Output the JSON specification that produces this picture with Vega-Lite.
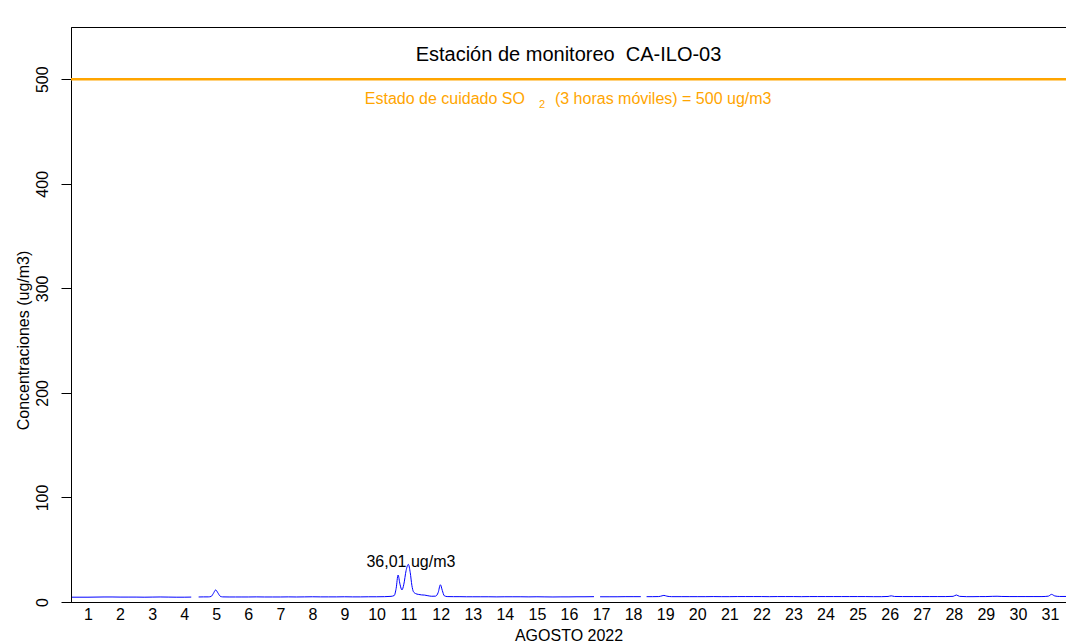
{
  "$schema": "https://vega.github.io/schema/vega-lite/v6.json",
  "width": 995,
  "height": 575,
  "autosize": {"type": "none"},
  "padding": {"left": 71, "top": 27, "right": 0, "bottom": 42},
  "background": "white",
  "config": {
    "font": "Liberation Sans",
    "view": {"stroke": "#000000", "strokeWidth": 1},
    "axis": {"labelColor": "#000000", "titleColor": "#000000", "domainColor": "#000000", "tickColor": "#000000", "grid": false, "labelFlush": false, "labelBound": false, "domainWidth": 1, "labelFontSize": 16, "titleFontSize": 16, "titleFontWeight": "normal"}
  },
  "title": {"text": "Estación de monitoreo\u00a0 CA-ILO-03", "fontSize": 20, "fontWeight": "normal", "color": "#000000", "anchor": "middle", "offset": -38},
  "datasets": {
    "so2": [
      {"t":0.5,"v":4.6,"s":1},{"t":0.75,"v":4.6,"s":1},{"t":1.0,"v":4.6,"s":1},{"t":1.25,"v":4.7,"s":1},{"t":1.5,"v":4.8,"s":1},{"t":1.75,"v":4.8,"s":1},{"t":2.0,"v":4.7,"s":1},{"t":2.25,"v":4.7,"s":1},{"t":2.5,"v":4.7,"s":1},{"t":2.75,"v":4.6,"s":1},{"t":3.0,"v":4.7,"s":1},{"t":3.25,"v":4.8,"s":1},{"t":3.5,"v":4.7,"s":1},{"t":3.75,"v":4.6,"s":1},{"t":4.0,"v":4.6,"s":1},{"t":4.22,"v":4.7,"s":1},
      {"t":4.45,"v":4.8,"s":2},{"t":4.6,"v":4.9,"s":2},{"t":4.75,"v":4.9,"s":2},{"t":4.84,"v":5.3,"s":2},{"t":4.91,"v":8.2,"s":2},{"t":4.98,"v":11.5,"s":2},{"t":5.05,"v":8.8,"s":2},{"t":5.12,"v":5.6,"s":2},{"t":5.2,"v":4.9,"s":2},{"t":5.4,"v":4.8,"s":2},{"t":5.6,"v":4.8,"s":2},{"t":5.8,"v":4.8,"s":2},{"t":6.0,"v":4.8,"s":2},{"t":6.25,"v":4.9,"s":2},{"t":6.5,"v":4.8,"s":2},{"t":6.75,"v":4.8,"s":2},{"t":7.0,"v":4.8,"s":2},{"t":7.25,"v":4.9,"s":2},{"t":7.5,"v":4.8,"s":2},{"t":7.75,"v":4.9,"s":2},{"t":8.0,"v":5.0,"s":2},{"t":8.25,"v":4.9,"s":2},{"t":8.5,"v":4.9,"s":2},{"t":8.75,"v":4.9,"s":2},{"t":9.0,"v":5.0,"s":2},{"t":9.25,"v":4.9,"s":2},{"t":9.5,"v":4.9,"s":2},{"t":9.75,"v":5.0,"s":2},{"t":10.0,"v":5.0,"s":2},{"t":10.25,"v":5.1,"s":2},{"t":10.45,"v":5.4,"s":2},{"t":10.55,"v":6.2,"s":2},{"t":10.61,"v":13,"s":2},{"t":10.67,"v":25.8,"s":2},{"t":10.73,"v":17,"s":2},{"t":10.79,"v":11.5,"s":2},{"t":10.85,"v":17,"s":2},{"t":10.92,"v":30,"s":2},{"t":10.99,"v":36.01,"s":2},{"t":11.05,"v":28,"s":2},{"t":11.1,"v":16,"s":2},{"t":11.15,"v":9.8,"s":2},{"t":11.22,"v":8,"s":2},{"t":11.3,"v":7.3,"s":2},{"t":11.4,"v":6.8,"s":2},{"t":11.5,"v":6.6,"s":2},{"t":11.6,"v":6.0,"s":2},{"t":11.72,"v":5.5,"s":2},{"t":11.84,"v":5.6,"s":2},{"t":11.92,"v":9,"s":2},{"t":11.99,"v":16.5,"s":2},{"t":12.05,"v":11,"s":2},{"t":12.11,"v":6,"s":2},{"t":12.2,"v":5.2,"s":2},{"t":12.4,"v":5.1,"s":2},{"t":12.6,"v":5.1,"s":2},{"t":12.8,"v":5.0,"s":2},{"t":13.0,"v":5.0,"s":2},{"t":13.25,"v":5.0,"s":2},{"t":13.5,"v":5.0,"s":2},{"t":13.75,"v":4.9,"s":2},{"t":14.0,"v":5.0,"s":2},{"t":14.25,"v":5.0,"s":2},{"t":14.5,"v":5.0,"s":2},{"t":14.75,"v":4.9,"s":2},{"t":15.0,"v":5.0,"s":2},{"t":15.25,"v":4.9,"s":2},{"t":15.5,"v":4.8,"s":2},{"t":15.75,"v":4.9,"s":2},{"t":16.0,"v":4.9,"s":2},{"t":16.25,"v":5.0,"s":2},{"t":16.5,"v":5.0,"s":2},{"t":16.78,"v":5.1,"s":2},
      {"t":16.97,"v":5.0,"s":3},{"t":17.25,"v":5.0,"s":3},{"t":17.5,"v":5.0,"s":3},{"t":17.75,"v":5.1,"s":3},{"t":18.0,"v":5.1,"s":3},{"t":18.24,"v":5.1,"s":3},
      {"t":18.42,"v":5.1,"s":4},{"t":18.6,"v":5.1,"s":4},{"t":18.8,"v":5.2,"s":4},{"t":18.9,"v":5.9,"s":4},{"t":18.96,"v":6.3,"s":4},{"t":19.05,"v":5.6,"s":4},{"t":19.2,"v":5.1,"s":4},{"t":19.5,"v":5.1,"s":4},{"t":19.75,"v":5.1,"s":4},{"t":20.0,"v":5.1,"s":4},{"t":20.25,"v":5.1,"s":4},{"t":20.5,"v":5.2,"s":4},{"t":20.75,"v":5.1,"s":4},{"t":21.0,"v":5.1,"s":4},{"t":21.25,"v":5.2,"s":4},{"t":21.5,"v":5.2,"s":4},{"t":21.75,"v":5.2,"s":4},{"t":22.0,"v":5.2,"s":4},{"t":22.25,"v":5.1,"s":4},{"t":22.5,"v":5.2,"s":4},{"t":22.75,"v":5.2,"s":4},{"t":23.0,"v":5.2,"s":4},{"t":23.25,"v":5.1,"s":4},{"t":23.5,"v":5.2,"s":4},{"t":23.75,"v":5.2,"s":4},{"t":24.0,"v":5.2,"s":4},{"t":24.25,"v":5.2,"s":4},{"t":24.5,"v":5.2,"s":4},{"t":24.75,"v":5.2,"s":4},{"t":25.0,"v":5.2,"s":4},{"t":25.25,"v":5.2,"s":4},{"t":25.5,"v":5.1,"s":4},{"t":25.75,"v":5.1,"s":4},{"t":25.95,"v":5.3,"s":4},{"t":26.05,"v":5.9,"s":4},{"t":26.15,"v":5.3,"s":4},{"t":26.4,"v":5.2,"s":4},{"t":26.75,"v":5.2,"s":4},{"t":27.0,"v":5.2,"s":4},{"t":27.25,"v":5.2,"s":4},{"t":27.5,"v":5.2,"s":4},{"t":27.75,"v":5.2,"s":4},{"t":27.98,"v":5.4,"s":4},{"t":28.08,"v":6.7,"s":4},{"t":28.18,"v":5.4,"s":4},{"t":28.4,"v":5.1,"s":4},{"t":28.6,"v":5.1,"s":4},{"t":28.8,"v":5.2,"s":4},{"t":29.0,"v":5.2,"s":4},{"t":29.2,"v":5.4,"s":4},{"t":29.35,"v":5.5,"s":4},{"t":29.5,"v":5.3,"s":4},{"t":29.75,"v":5.2,"s":4},{"t":30.0,"v":5.2,"s":4},{"t":30.25,"v":5.2,"s":4},{"t":30.5,"v":5.2,"s":4},{"t":30.75,"v":5.2,"s":4},{"t":30.95,"v":5.6,"s":4},{"t":31.05,"v":7.3,"s":4},{"t":31.15,"v":5.8,"s":4},{"t":31.3,"v":5.3,"s":4},{"t":31.5,"v":5.3,"s":4}
    ],
    "limit": [{"t": 0.47, "t2": 31.5, "v": 500}],
    "limitLeft": [{"t": 14.627, "v": 500, "label": "Estado de cuidado SO"}],
    "limitSub": [{"t": 15.157, "v": 500, "label": "2"}],
    "limitRight": [{"t": 15.562, "v": 500, "label": "(3 horas móviles) = 500 ug/m3"}],
    "peak": [{"t": 11.07, "v": 36.01, "label": "36,01 ug/m3"}]
  },
  "encoding": {
    "x": {"field": "t", "type": "quantitative", "scale": {"domain": [0.47, 31.5], "nice": false, "zero": false},
      "axis": {"values": [1,2,3,4,5,6,7,8,9,10,11,12,13,14,15,16,17,18,19,20,21,22,23,24,25,26,27,28,29,30,31], "format": "d", "title": "AGOSTO 2022", "tickSize": 0, "labelPadding": 4, "labelOverlap": false, "titleBaseline": "alphabetic", "titleY": 38}},
    "y": {"field": "v", "type": "quantitative", "scale": {"domain": [0, 550], "nice": false},
      "axis": {"values": [0,100,200,300,400,500], "title": "Concentraciones (ug/m3)", "tickSize": 10, "labelAngle": 270, "labelAlign": "center", "labelBaseline": "alphabetic", "labelPadding": 14, "labelOverlap": false, "titleAngle": -90, "titleBaseline": "alphabetic", "titleX": -43, "titleY": 313,
        "encode": {"labels": {"update": {"angle": {"value": 270}, "align": {"value": "center"}, "baseline": {"value": "alphabetic"}}}}}}
  },
  "layer": [
    {
      "data": {"name": "so2"},
      "mark": {"type": "line", "color": "#0000FF", "strokeWidth": 1, "interpolate": "monotone"},
      "encoding": {"detail": {"field": "s", "type": "nominal"}}
    },
    {
      "data": {"name": "limit"},
      "mark": {"type": "rule", "color": "#FFA500", "strokeWidth": 2.5},
      "encoding": {"x2": {"field": "t2"}}
    },
    {
      "data": {"name": "limitLeft"},
      "mark": {"type": "text", "color": "#FFA500", "fontSize": 16, "baseline": "alphabetic", "align": "right", "dy": 25},
      "encoding": {"text": {"field": "label"}}
    },
    {
      "data": {"name": "limitSub"},
      "mark": {"type": "text", "color": "#FFA500", "fontSize": 11, "baseline": "alphabetic", "align": "center", "dy": 29},
      "encoding": {"text": {"field": "label"}}
    },
    {
      "data": {"name": "limitRight"},
      "mark": {"type": "text", "color": "#FFA500", "fontSize": 16, "baseline": "alphabetic", "align": "left", "dy": 25},
      "encoding": {"text": {"field": "label"}}
    },
    {
      "data": {"name": "peak"},
      "mark": {"type": "text", "color": "#000000", "fontSize": 16, "baseline": "alphabetic", "align": "center", "dy": 3},
      "encoding": {"text": {"field": "label"}}
    }
  ]
}
